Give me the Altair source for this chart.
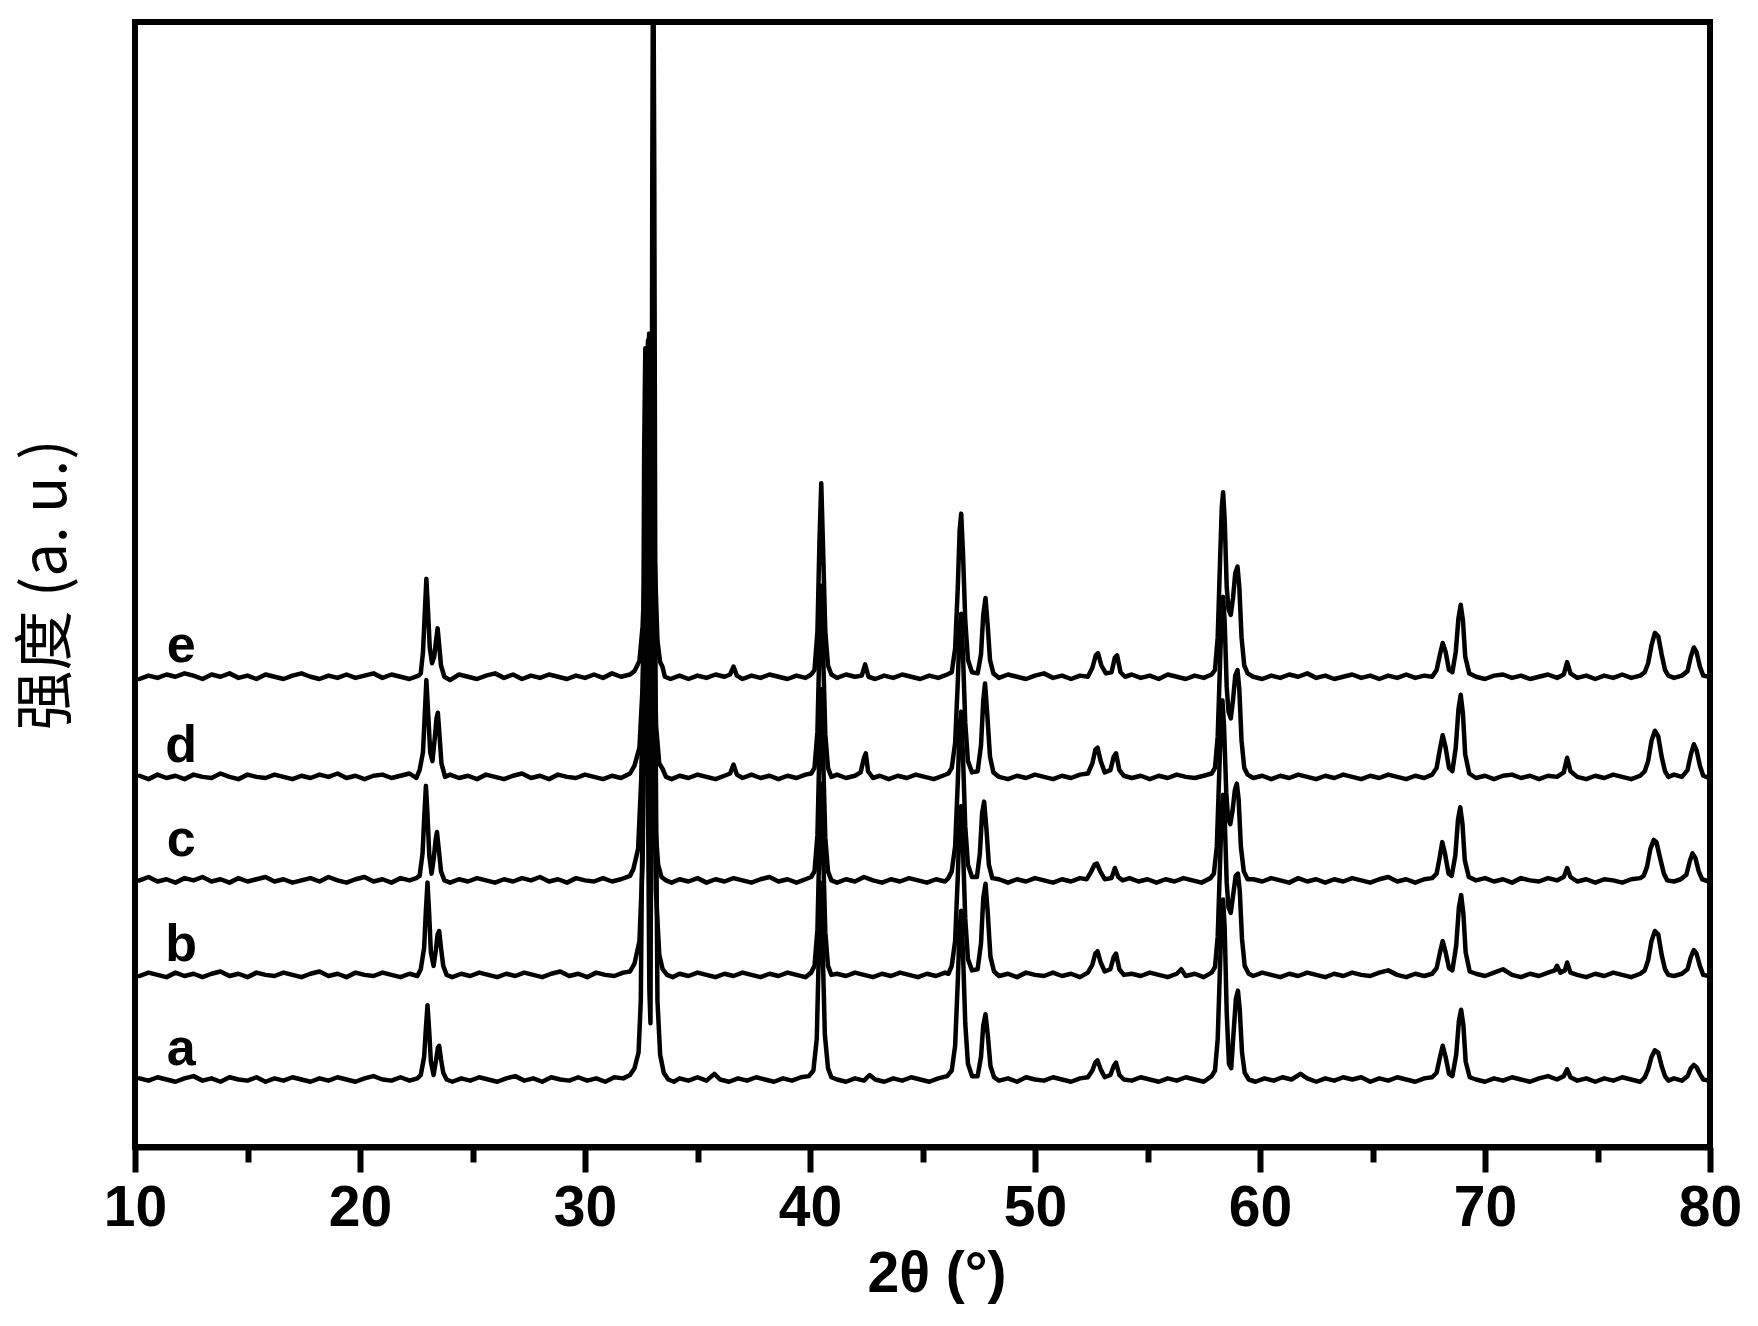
import altair as alt
import pandas as pd

# ---- data (2theta in degrees, intensity in a.u. above each baseline) ----
SAMPLES = ["a", "b", "c", "d", "e"]
OFFSETS = [60, 153, 237, 329, 418]        # vertical stacking offset of each pattern
LABEL_LIFT = [13, 12, 22, 13, 13]         # letter label height above its pattern
LABEL_2THETA = 12.05

MAJOR_TICKS = [10, 20, 30, 40, 50, 60, 70, 80]
MINOR_TICKS = [15, 25, 35, 45, 55, 65, 75]

A_PTS = [
    (10.2, 1), (10.6, -1), (11.0, 2), (11.4, 0), (11.8, -2), (12.2, 1), (12.6, 3), (13.0, -1), (13.4, 1),
    (13.8, -2), (14.2, 2), (14.6, 0), (15.0, -1), (15.4, 2), (15.8, -2), (16.2, 1), (16.6, -1), (17.0, 2),
    (17.4, 0), (17.8, -2), (18.2, 1), (18.6, -1), (19.0, 2), (19.4, 0), (19.8, -2), (20.2, 1), (20.6, 3),
    (21.0, 0), (21.4, -1), (21.8, 2), (22.2, -1), (22.55, 1),
    (22.7, 4), (22.85, 20), (22.93, 46), (23.0, 66), (23.07, 45), (23.15, 16), (23.27, 4), (23.37, 16),
    (23.46, 28), (23.52, 30), (23.6, 18), (23.7, 6), (23.85, 0),
    (24.1, -2), (24.5, 1), (24.9, -1), (25.3, 2), (25.7, 0), (26.1, -2), (26.5, 1), (26.9, 3), (27.3, -1),
    (27.7, 1), (28.1, -2), (28.5, 2), (28.9, 0), (29.3, -1), (29.7, 2), (30.1, -1), (30.5, 1), (30.9, -2),
    (31.3, 2), (31.7, 1), (32.0, 4),
    (32.2, 10), (32.38, 24), (32.48, 70), (32.56, 250), (32.63, 560), (32.68, 650), (32.74, 560), (32.8, 250),
    (32.86, 80), (32.91, 50), (32.95, 300), (32.99, 800), (33.03, 1050), (33.08, 800), (33.14, 300),
    (33.22, 70), (33.34, 22), (33.5, 6), (33.7, 0), (33.95, -2),
    (34.2, 1), (34.6, -1), (35.0, 2), (35.4, -1), (35.75, 5), (36.0, 0), (36.4, -2), (36.8, 1), (37.2, -1),
    (37.6, 2), (38.0, 0), (38.4, -2), (38.8, 1), (39.2, -1), (39.6, 2), (39.95, 3),
    (40.15, 8), (40.3, 36), (40.4, 120), (40.48, 175), (40.56, 118), (40.66, 40), (40.8, 10), (40.95, 2),
    (41.2, 0), (41.6, -2), (42.0, 1), (42.4, -1), (42.65, 4), (42.9, 0), (43.3, -2), (43.7, 1), (44.1, -1),
    (44.5, 2), (44.9, 0), (45.3, -2), (45.7, 1), (46.1, 3),
    (46.3, 8), (46.45, 30), (46.57, 88), (46.65, 136), (46.72, 150), (46.8, 112), (46.9, 50), (47.02, 14),
    (47.2, 3), (47.45, 3), (47.6, 20), (47.7, 48), (47.8, 58), (47.9, 40), (48.02, 12), (48.18, 2),
    (48.4, -1), (48.8, 1), (49.2, -2), (49.6, 2), (50.0, 0), (50.4, -1), (50.8, 2), (51.2, 0), (51.6, -2),
    (52.0, 1), (52.35, 2),
    (52.55, 8), (52.68, 15), (52.78, 17), (52.92, 9), (53.1, 2), (53.35, 4), (53.5, 12), (53.6, 15),
    (53.75, 4), (53.95, 0),
    (54.3, -1), (54.7, 2), (55.1, 0), (55.5, -2), (55.9, 1), (56.3, -1), (56.7, 2), (57.1, 0), (57.5, -2),
    (57.85, 3),
    (58.0, 8), (58.12, 36), (58.22, 98), (58.3, 148), (58.36, 160), (58.43, 135), (58.52, 60), (58.62, 14),
    (58.72, 10), (58.82, 40), (58.93, 72), (59.02, 79), (59.1, 62), (59.2, 24), (59.32, 6), (59.5, 0),
    (59.8, -2), (60.2, 1), (60.6, -1), (61.0, 2), (61.4, 0), (61.8, 5), (62.1, 1), (62.5, -2), (62.9, 1),
    (63.3, -1), (63.7, 2), (64.1, 0), (64.5, 2), (64.9, -2), (65.3, 1), (65.7, -1), (66.1, 2), (66.5, 0),
    (66.9, -2), (67.3, 1), (67.65, 2),
    (67.85, 6), (68.0, 20), (68.12, 30), (68.25, 20), (68.4, 5), (68.55, 3), (68.72, 22), (68.84, 52),
    (68.94, 62), (69.04, 48), (69.14, 16), (69.32, 2),
    (69.6, 0), (70.0, -2), (70.4, 1), (70.8, -1), (71.2, 2), (71.6, 0), (72.0, -2), (72.4, 1), (72.8, 3),
    (73.2, 0), (73.5, 3), (73.65, 9), (73.8, 2), (74.1, -1), (74.5, 1), (74.9, -2), (75.3, 1), (75.7, -1),
    (76.1, 2), (76.5, 0), (76.9, -2), (77.1, 2),
    (77.25, 9), (77.4, 20), (77.55, 26), (77.7, 24), (77.85, 12), (78.0, 3), (78.15, -1),
    (78.4, 1), (78.75, -1),
    (79.0, 3), (79.15, 10), (79.28, 13), (79.4, 11), (79.55, 5), (79.7, 0), (79.95, -1),
]

B_PTS = [
    (10.2, -1), (10.6, 2), (11.0, 0), (11.4, -2), (11.8, 2), (12.2, -1), (12.6, 1), (13.0, -2), (13.4, 1),
    (13.8, 3), (14.2, -1), (14.6, 1), (15.0, -2), (15.4, 2), (15.8, 0), (16.2, -1), (16.6, 2), (17.0, 0),
    (17.4, -2), (17.8, 1), (18.2, 3), (18.6, -1), (19.0, 1), (19.4, -2), (19.8, 2), (20.2, 0), (20.6, -1),
    (21.0, 2), (21.4, 0), (21.8, -2), (22.2, 1), (22.55, -1),
    (22.7, 5), (22.85, 24), (22.93, 58), (23.0, 82), (23.07, 56), (23.15, 20), (23.27, 8), (23.37, 22),
    (23.45, 36), (23.52, 39), (23.6, 24), (23.7, 8), (23.85, 0),
    (24.1, -2), (24.5, 1), (24.9, -1), (25.3, 2), (25.7, 0), (26.1, -2), (26.5, 1), (26.9, -1), (27.3, 2),
    (27.7, 0), (28.1, -2), (28.5, 1), (28.9, 3), (29.3, -1), (29.7, 1), (30.1, -2), (30.5, 2), (30.9, 0),
    (31.3, -1), (31.7, 2), (32.0, 3),
    (32.2, 10), (32.42, 30), (32.56, 100), (32.67, 270), (32.77, 480), (32.85, 570), (32.93, 460), (33.03, 240),
    (33.15, 75), (33.3, 18), (33.45, 5), (33.65, 0), (33.9, -2),
    (34.2, 1), (34.6, -1), (35.0, 2), (35.4, 0), (35.8, -2), (36.2, 1), (36.6, -1), (37.0, 2), (37.4, 0),
    (37.8, -2), (38.2, 1), (38.6, -1), (39.0, 2), (39.4, 0), (39.8, -2), (40.05, 2),
    (40.2, 8), (40.33, 40), (40.42, 118), (40.5, 170), (40.58, 112), (40.68, 38), (40.8, 8), (40.95, 0),
    (41.2, 1), (41.6, -1), (42.0, 2), (42.4, 0), (42.8, -2), (43.2, 1), (43.6, -1), (44.0, 2), (44.4, 0),
    (44.8, -2), (45.2, 1), (45.6, -1), (46.0, 2), (46.15, 1),
    (46.3, 8), (46.45, 30), (46.57, 88), (46.65, 136), (46.72, 150), (46.8, 112), (46.9, 50), (47.02, 14),
    (47.2, 4), (47.45, 5), (47.6, 28), (47.7, 68), (47.8, 81), (47.9, 55), (48.02, 16), (48.18, 3),
    (48.4, -1), (48.8, 1), (49.2, -2), (49.6, 2), (50.0, 0), (50.4, -1), (50.8, 2), (51.2, -1), (51.6, 1),
    (52.0, -2), (52.35, 2),
    (52.55, 9), (52.68, 19), (52.78, 21), (52.92, 11), (53.1, 3), (53.35, 5), (53.5, 16), (53.6, 19),
    (53.75, 5), (53.95, 0),
    (54.3, 1), (54.7, -1), (55.1, 2), (55.5, 0), (55.9, -2), (56.3, 1), (56.5, 5), (56.7, -1), (57.1, 1),
    (57.5, -2), (57.85, 2),
    (58.0, 7), (58.12, 34), (58.22, 96), (58.3, 148), (58.36, 160), (58.43, 140), (58.52, 82), (58.6, 60),
    (58.7, 55), (58.8, 70), (58.92, 88), (59.02, 90), (59.1, 75), (59.2, 32), (59.32, 8), (59.5, 1),
    (59.7, -1), (60.1, 2), (60.5, 0), (60.9, -2), (61.3, 1), (61.7, -1), (62.1, 2), (62.5, 0), (62.9, -2),
    (63.3, 1), (63.7, -1), (64.1, 2), (64.5, 0), (64.9, -1), (65.3, 2), (65.7, 4), (66.1, 0), (66.5, -2),
    (66.9, 1), (67.3, -1), (67.65, 1),
    (67.85, 6), (68.0, 20), (68.12, 30), (68.25, 20), (68.4, 6), (68.55, 4), (68.72, 26), (68.84, 60),
    (68.94, 71), (69.04, 54), (69.14, 20), (69.32, 3),
    (69.6, 1), (70.0, -1), (70.4, 2), (70.8, 5), (71.2, 0), (71.6, -2), (72.0, 1), (72.4, -1), (72.8, 2),
    (73.1, 4), (73.2, 8), (73.35, 2), (73.55, 4), (73.65, 11), (73.8, 2), (74.1, 0), (74.5, -2), (74.9, 1),
    (75.3, -1), (75.7, 2), (76.1, 0), (76.5, -2), (76.9, 1), (77.1, 4),
    (77.25, 13), (77.4, 30), (77.55, 39), (77.7, 36), (77.85, 18), (78.0, 5), (78.15, 0),
    (78.4, -1), (78.75, 1),
    (79.0, 5), (79.15, 16), (79.28, 22), (79.4, 19), (79.55, 8), (79.7, 0), (79.95, -1),
]

C_PTS = [
    (10.2, 0), (10.6, 3), (11.0, -1), (11.4, 1), (11.8, -2), (12.2, 2), (12.6, 0), (13.0, 3), (13.4, -1),
    (13.8, 1), (14.2, -2), (14.6, 2), (15.0, -1), (15.4, 1), (15.8, 3), (16.2, -1), (16.6, 1), (17.0, -2),
    (17.4, 0), (17.8, 2), (18.2, -1), (18.6, 3), (19.0, 0), (19.4, -2), (19.8, 1), (20.2, 3), (20.6, -1),
    (21.0, 1), (21.4, -2), (21.8, 2), (22.2, 0), (22.5, 2),
    (22.65, 4), (22.78, 24), (22.86, 58), (22.93, 84), (23.0, 58), (23.08, 22), (23.18, 6), (23.28, 20),
    (23.36, 36), (23.42, 43), (23.5, 28), (23.6, 8), (23.75, 0),
    (24.0, -2), (24.4, 1), (24.8, -1), (25.2, 2), (25.6, 0), (26.0, -2), (26.4, 1), (26.8, -1), (27.2, 2),
    (27.6, 0), (28.0, 3), (28.4, -1), (28.8, 1), (29.2, -2), (29.6, 2), (30.0, 0), (30.4, -1), (30.8, 2),
    (31.2, -1), (31.6, 1), (32.0, 4),
    (32.15, 10), (32.36, 28), (32.5, 90), (32.62, 230), (32.72, 410), (32.8, 480), (32.88, 390), (32.98, 200),
    (33.1, 55), (33.25, 14), (33.4, 3), (33.6, 0), (33.85, -2),
    (34.2, 1), (34.6, -1), (35.0, 2), (35.4, -2), (35.8, 1), (36.2, -1), (36.6, 2), (37.0, 0), (37.4, -2),
    (37.8, 1), (38.2, 3), (38.6, -1), (39.0, 1), (39.4, -2), (39.8, 1), (40.05, 3),
    (40.2, 8), (40.33, 40), (40.42, 118), (40.5, 170), (40.58, 112), (40.68, 38), (40.8, 8), (40.95, 0),
    (41.2, -2), (41.6, 1), (42.0, -1), (42.4, 3), (42.8, 0), (43.2, -2), (43.6, 1), (44.0, -1), (44.4, 2),
    (44.8, 0), (45.2, -2), (45.6, 1), (46.0, -1), (46.15, 2),
    (46.3, 8), (46.45, 30), (46.57, 88), (46.65, 136), (46.72, 150), (46.8, 110), (46.9, 48), (47.02, 14),
    (47.2, 3), (47.42, 3), (47.55, 24), (47.65, 60), (47.74, 70), (47.84, 46), (47.95, 14), (48.1, 2),
    (48.4, 1), (48.8, -2), (49.2, 1), (49.6, -1), (50.0, 2), (50.4, 0), (50.8, -2), (51.2, 1), (51.6, -1),
    (52.0, 2), (52.3, 1),
    (52.5, 8), (52.65, 14), (52.75, 15), (52.9, 8), (53.1, 1), (53.4, 2), (53.55, 11), (53.7, 3), (53.9, 0),
    (54.2, 2), (54.6, -1), (55.0, 1), (55.4, -2), (55.8, 1), (56.2, -1), (56.6, 2), (57.0, 0), (57.4, -2),
    (57.8, 2),
    (57.95, 6), (58.08, 30), (58.18, 90), (58.27, 145), (58.33, 160), (58.4, 138), (58.5, 78), (58.58, 55),
    (58.68, 50), (58.78, 62), (58.88, 80), (58.97, 86), (59.05, 72), (59.15, 30), (59.28, 8), (59.45, 1),
    (59.7, 1), (60.1, -1), (60.5, 2), (60.9, 0), (61.3, -2), (61.7, 2), (62.1, -1), (62.5, 1), (62.9, -2),
    (63.3, 1), (63.7, -1), (64.1, 2), (64.5, 0), (64.9, -2), (65.3, 1), (65.7, 3), (66.1, -1), (66.5, 1),
    (66.9, -2), (67.3, 1), (67.65, 2),
    (67.85, 6), (68.0, 22), (68.1, 34), (68.22, 24), (68.38, 6), (68.52, 4), (68.68, 22), (68.8, 54),
    (68.9, 65), (69.0, 50), (69.1, 18), (69.28, 3),
    (69.6, 0), (70.0, 2), (70.4, -1), (70.8, 1), (71.2, -2), (71.6, 2), (72.0, 0), (72.4, -1), (72.8, 2),
    (73.2, 0), (73.5, 3), (73.65, 11), (73.8, 3), (74.1, -1), (74.5, 1), (74.9, -2), (75.3, 1), (75.7, 0),
    (76.1, -2), (76.5, 1), (76.9, 2), (77.05, 4),
    (77.2, 12), (77.35, 28), (77.5, 36), (77.62, 34), (77.78, 20), (77.95, 6), (78.1, 0),
    (78.4, -1), (78.7, 1),
    (78.95, 5), (79.1, 17), (79.22, 24), (79.35, 20), (79.5, 8), (79.65, 1), (79.95, -1),
]

D_PTS = [
    (10.2, 1), (10.6, -2), (11.0, 2), (11.4, -1), (11.8, 1), (12.2, -2), (12.6, 2), (13.0, 0), (13.4, -1),
    (13.8, 3), (14.2, 0), (14.6, -2), (15.0, 2), (15.4, 0), (15.8, -1), (16.2, 2), (16.6, 0), (17.0, -2),
    (17.4, 1), (17.8, -1), (18.2, 2), (18.6, 0), (19.0, 3), (19.4, -1), (19.8, 1), (20.2, -2), (20.6, 1),
    (21.0, 2), (21.4, -1), (21.8, 1), (22.2, 3), (22.5, -1),
    (22.65, 6), (22.8, 22), (22.88, 56), (22.95, 86), (23.02, 60), (23.12, 22), (23.22, 14), (23.32, 34),
    (23.4, 52), (23.46, 57), (23.53, 38), (23.62, 12), (23.78, 0),
    (24.0, 2), (24.4, -1), (24.8, 1), (25.2, -2), (25.6, 2), (26.0, 0), (26.4, -2), (26.8, 1), (27.2, 3),
    (27.6, -1), (28.0, 1), (28.4, -2), (28.8, 2), (29.2, 0), (29.6, -1), (30.0, 2), (30.4, 0), (30.8, -2),
    (31.2, 1), (31.6, -1), (32.0, 3),
    (32.2, 10), (32.42, 26), (32.56, 80), (32.68, 190), (32.78, 330), (32.86, 390), (32.94, 310), (33.04, 160),
    (33.16, 45), (33.3, 12), (33.45, 7), (33.6, 0), (33.85, -2),
    (34.2, 1), (34.6, -1), (35.0, 2), (35.4, 0), (35.8, -2), (36.2, 1), (36.45, 3), (36.6, 11), (36.75, 2),
    (37.0, -1), (37.4, 2), (37.8, -1), (38.2, 1), (38.6, -2), (39.0, 1), (39.4, -1), (39.8, 2), (40.05, 3),
    (40.2, 8), (40.33, 40), (40.42, 118), (40.5, 170), (40.58, 112), (40.68, 38), (40.8, 8), (40.95, 0),
    (41.2, 2), (41.6, -1), (42.0, 1), (42.25, 4), (42.4, 17), (42.48, 21), (42.58, 5), (42.8, -1), (43.1, 1),
    (43.5, -2), (43.9, 1), (44.3, -1), (44.7, 2), (45.1, 0), (45.5, -2), (45.9, 1), (46.15, 3),
    (46.3, 8), (46.45, 30), (46.57, 85), (46.65, 132), (46.72, 145), (46.8, 108), (46.9, 48), (47.02, 14),
    (47.2, 4), (47.45, 5), (47.6, 28), (47.7, 68), (47.78, 83), (47.88, 55), (48.0, 18), (48.15, 4),
    (48.4, 0), (48.8, -2), (49.2, 1), (49.6, -1), (50.0, 2), (50.4, 0), (50.8, -2), (51.2, 1), (51.6, -1),
    (52.0, 2), (52.35, 3),
    (52.55, 12), (52.68, 24), (52.78, 26), (52.92, 14), (53.1, 4), (53.35, 6), (53.5, 18), (53.6, 21),
    (53.75, 6), (53.95, 1),
    (54.3, -1), (54.7, 1), (55.1, -2), (55.5, 1), (55.9, -1), (56.3, 2), (56.7, 0), (57.1, -1), (57.5, 1),
    (57.85, 3),
    (58.0, 8), (58.12, 36), (58.22, 98), (58.3, 148), (58.36, 160), (58.43, 138), (58.52, 80), (58.6, 58),
    (58.7, 52), (58.8, 68), (58.9, 90), (59.0, 95), (59.08, 78), (59.18, 32), (59.3, 8), (59.45, 2),
    (59.7, -1), (60.1, 1), (60.5, -2), (60.9, 1), (61.3, -1), (61.7, 2), (62.1, 0), (62.5, -2), (62.9, 1),
    (63.3, -1), (63.7, 2), (64.1, 0), (64.5, -2), (64.9, 1), (65.3, -1), (65.7, 2), (66.1, 0), (66.5, -2),
    (66.9, 1), (67.3, -1), (67.65, 2),
    (67.85, 8), (68.0, 25), (68.12, 37), (68.25, 26), (68.4, 8), (68.55, 5), (68.7, 26), (68.82, 60),
    (68.92, 73), (69.02, 56), (69.12, 20), (69.3, 3),
    (69.6, -1), (70.0, 1), (70.4, -2), (70.8, 1), (71.2, 2), (71.6, -1), (72.0, 1), (72.4, -2), (72.8, 1),
    (73.2, 0), (73.5, 4), (73.65, 17), (73.8, 5), (74.1, 0), (74.5, -2), (74.9, 1), (75.3, -1), (75.7, 2),
    (76.1, 0), (76.5, -2), (76.9, 1), (77.1, 5),
    (77.25, 14), (77.4, 32), (77.55, 41), (77.7, 36), (77.85, 18), (78.0, 5), (78.15, 0),
    (78.4, 2), (78.75, 0),
    (79.0, 6), (79.15, 20), (79.28, 29), (79.4, 24), (79.55, 10), (79.7, 1), (79.95, -1),
]

E_PTS = [
    (10.2, -2), (10.6, 1), (11.0, -1), (11.4, 2), (11.8, 0), (12.2, 3), (12.6, 1), (13.0, -2), (13.4, 2),
    (13.8, 0), (14.2, 3), (14.6, -1), (15.0, 1), (15.4, -2), (15.8, 2), (16.2, 0), (16.6, -2), (17.0, 1),
    (17.4, 3), (17.8, 0), (18.2, -2), (18.6, 1), (19.0, -1), (19.4, 2), (19.8, -1), (20.2, 1), (20.6, 3),
    (21.0, -1), (21.4, 2), (21.8, 0), (22.2, -2), (22.6, 1),
    (22.7, 3), (22.8, 22), (22.88, 57), (22.95, 87), (23.02, 60), (23.1, 26), (23.2, 12), (23.3, 18),
    (23.38, 32), (23.45, 43), (23.52, 28), (23.6, 10), (23.75, 0),
    (24.0, -3), (24.4, 2), (24.8, 0), (25.2, -2), (25.6, 1), (26.0, 3), (26.4, -1), (26.8, 2), (27.2, -2),
    (27.6, 1), (28.0, -1), (28.4, 2), (28.8, 0), (29.2, -2), (29.6, 1), (30.0, -1), (30.4, 2), (30.8, -1),
    (31.2, 3), (31.6, 0), (32.0, 2),
    (32.2, 5), (32.42, 14), (32.56, 45), (32.7, 115), (32.81, 235), (32.9, 300), (32.99, 225), (33.1, 105),
    (33.22, 32), (33.34, 13), (33.44, 9), (33.55, 0), (33.8, -2),
    (34.2, 1), (34.6, -2), (35.0, 1), (35.4, -1), (35.8, 2), (36.2, 0), (36.45, 2), (36.6, 9), (36.75, 1),
    (37.0, -2), (37.4, 1), (37.8, -1), (38.2, 2), (38.6, 0), (39.0, -2), (39.4, 1), (39.8, -1), (40.05, 2),
    (40.2, 6), (40.33, 40), (40.42, 120), (40.5, 172), (40.58, 115), (40.68, 40), (40.8, 10), (40.95, 2),
    (41.2, -1), (41.6, 2), (42.0, 0), (42.3, 1), (42.45, 11), (42.6, 0), (42.9, -2), (43.3, 1), (43.7, -1),
    (44.1, 2), (44.5, 0), (44.9, -2), (45.3, 1), (45.7, -1), (46.1, 2),
    (46.3, 4), (46.45, 25), (46.57, 80), (46.65, 130), (46.72, 145), (46.8, 110), (46.9, 50), (47.02, 15),
    (47.2, 4), (47.45, 3), (47.6, 20), (47.7, 55), (47.8, 70), (47.9, 45), (48.0, 15), (48.15, 3),
    (48.4, -1), (48.8, 2), (49.2, 0), (49.6, -2), (50.0, 1), (50.4, 3), (50.8, -1), (51.2, 1), (51.6, -2),
    (52.0, 1), (52.35, 0),
    (52.55, 8), (52.7, 19), (52.8, 21), (52.95, 10), (53.15, 3), (53.4, 4), (53.55, 17), (53.65, 19),
    (53.8, 4), (54.0, 0),
    (54.3, 2), (54.7, -1), (55.1, 1), (55.5, -2), (55.9, 2), (56.3, 0), (56.7, -2), (57.1, 1), (57.5, -1),
    (57.85, 2),
    (58.0, 6), (58.12, 35), (58.22, 100), (58.3, 150), (58.36, 164), (58.43, 140), (58.52, 80), (58.6, 60),
    (58.7, 55), (58.8, 70), (58.9, 92), (59.0, 98), (59.08, 80), (59.18, 35), (59.3, 10), (59.45, 3),
    (59.7, 0), (60.1, -2), (60.5, 1), (60.9, -1), (61.3, 2), (61.7, 0), (62.1, 3), (62.5, -1), (62.9, 1),
    (63.3, -2), (63.7, 0), (64.1, 2), (64.5, -1), (64.9, 1), (65.3, -2), (65.7, 1), (66.1, -1), (66.5, 2),
    (66.9, -1), (67.3, 1), (67.65, 0),
    (67.85, 6), (68.0, 20), (68.12, 30), (68.25, 22), (68.4, 6), (68.55, 4), (68.7, 22), (68.82, 52),
    (68.92, 64), (69.02, 50), (69.12, 18), (69.3, 3),
    (69.6, 0), (70.0, -2), (70.4, 1), (70.8, 2), (71.2, -1), (71.6, 1), (72.0, -2), (72.4, 0), (72.8, 2),
    (73.2, -1), (73.5, 2), (73.65, 13), (73.8, 3), (74.1, -1), (74.5, 1), (74.9, -2), (75.3, 1), (75.7, -1),
    (76.1, 2), (76.5, -1), (76.9, 1), (77.1, 4),
    (77.25, 12), (77.4, 28), (77.55, 39), (77.7, 36), (77.85, 20), (78.0, 6), (78.15, 1),
    (78.4, -1), (78.75, 1),
    (79.0, 5), (79.15, 18), (79.28, 26), (79.4, 22), (79.55, 9), (79.7, 1), (79.95, 0),
]

PATTERNS = [A_PTS, B_PTS, C_PTS, D_PTS, E_PTS]

# ---- tables ----
rows = []
for name, pts, off in zip(SAMPLES, PATTERNS, OFFSETS):
    for t, v in pts:
        rows.append({"sample": name, "two_theta": t, "intensity": v + off})
df = pd.DataFrame(rows)

lab = pd.DataFrame({
    "sample": SAMPLES,
    "two_theta": [LABEL_2THETA] * len(SAMPLES),
    "intensity": [o + l for o, l in zip(OFFSETS, LABEL_LIFT)],
})

W, H = 1575, 1125
xscale = alt.Scale(domain=[10, 80], nice=False, zero=False)
yscale = alt.Scale(domain=[0, 1000], nice=False, zero=False)

LABEL_FONT = "Liberation Sans"

lines = alt.Chart(df).mark_line(
    color="black", strokeWidth=4.5, clip=True, strokeJoin="round", strokeCap="round"
).encode(
    x=alt.X("two_theta:Q", scale=xscale,
            axis=alt.Axis(values=MAJOR_TICKS, title="2θ (°)", format="d", orient="bottom",
                          grid=False, domain=True, domainColor="black", domainWidth=6,
                          ticks=True, tickColor="black", tickWidth=6, tickSize=25,
                          labelFont=LABEL_FONT, labelFontWeight="bold", labelFontSize=57,
                          labelColor="black", labelPadding=8, labelFlush=False,
                          titleFont=LABEL_FONT, titleFontWeight="bold", titleFontSize=57,
                          titleColor="black", titlePadding=10, titleX=W / 2 + 14)),
    y=alt.Y("intensity:Q", scale=yscale,
            axis=alt.Axis(title="强度 (a. u.)", orient="left", labels=False, ticks=False, domain=False,
                          grid=False, titleFont="Noto Sans CJK SC", titleFontWeight="normal",
                          titleFontSize=60, titleColor="black", titlePadding=57)),
    detail="sample:N",
)

letters = alt.Chart(lab).mark_text(
    font=LABEL_FONT, fontWeight="bold", fontSize=52, color="black",
    align="center", baseline="alphabetic"
).encode(
    x=alt.X("two_theta:Q", scale=xscale, axis=None),
    y=alt.Y("intensity:Q", scale=yscale, axis=None),
    text="sample:N",
)

minor = alt.Chart(pd.DataFrame({"two_theta": MINOR_TICKS})).mark_point(opacity=0).encode(
    x=alt.X("two_theta:Q", scale=xscale,
            axis=alt.Axis(values=MINOR_TICKS, orient="bottom", labels=False, title=None, grid=False,
                          domain=False, ticks=True, tickColor="black", tickWidth=6, tickSize=15)),
)

chart = alt.layer(lines, letters, minor).resolve_axis(x="independent", y="independent").properties(
    width=W, height=H,
    autosize=alt.AutoSizeParams(type="none"),
    padding={"left": 127, "top": 14, "right": 40, "bottom": 171},
).configure(
    background="white",
    view=alt.ViewConfig(stroke="black", strokeWidth=6),
)

chart.save("out.html", embed_options={"renderer": "svg", "actions": False})
